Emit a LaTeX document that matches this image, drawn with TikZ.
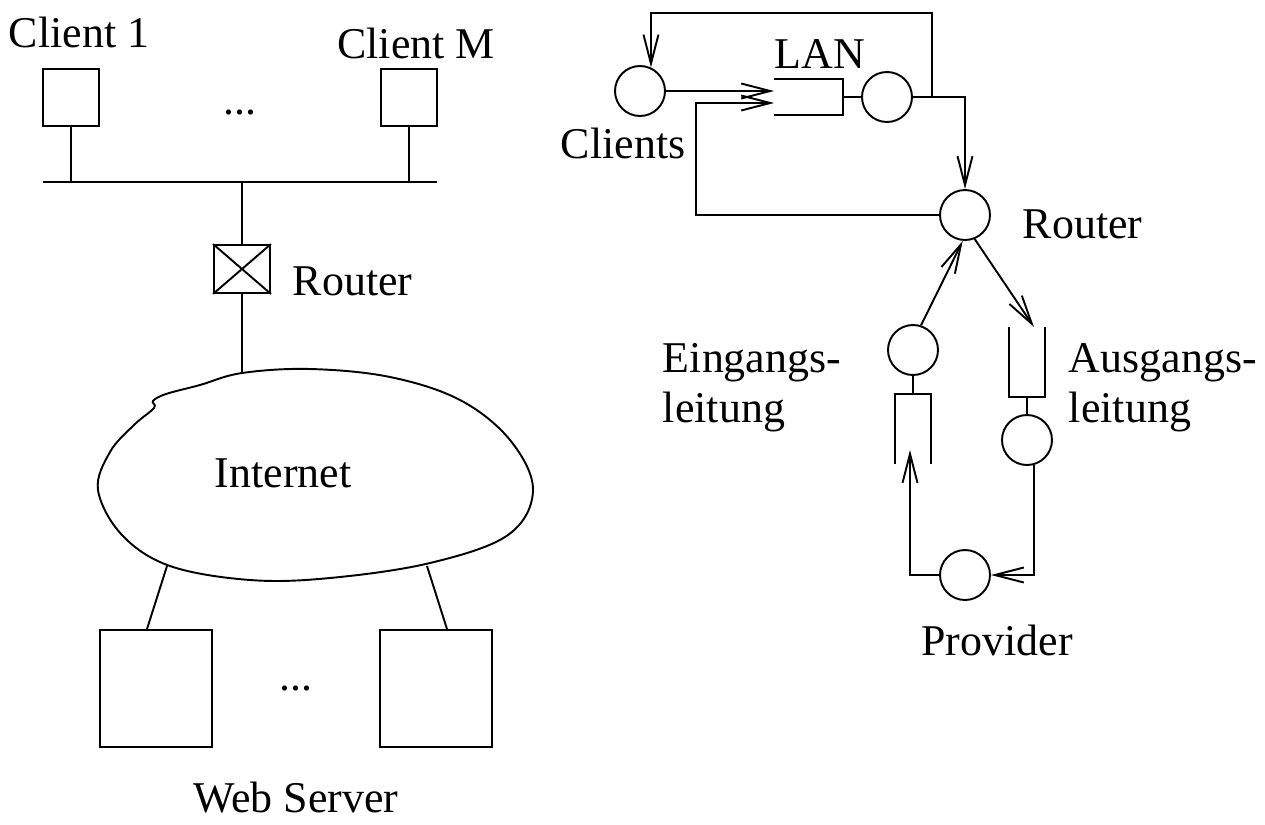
\documentclass[tikz,border=0pt]{standalone}
\usepackage{fontspec}
\setmainfont{Liberation Serif}
\usepackage{tikz}
\usetikzlibrary{arrows.meta}
\tikzstyle{box}=[rectangle, draw, inner sep=0pt]
\tikzstyle{stn}=[circle, draw, inner sep=0pt, minimum size=1cm]
\tikzstyle{queue}=[rectangle, inner sep=0pt, minimum width=0.68cm, minimum height=1.36cm]
\tikzstyle{lbl}=[inner sep=0pt]

\begin{document}
\begin{tikzpicture}[x=0.02cm, y=-0.02cm, line width=1.1pt,
    font=\fontsize{25}{28.5}\selectfont,
    >={Straight Barb[length=0.58cm, width=0.3cm]}]
        \useasboundingbox (0,0) rectangle (1265,825);

        % Clients
        \foreach \n/\x in {1/71, M/409}
            \node[box, minimum width=1.12cm, minimum height=1.14cm] (c\n) at (\x,97.5) {};
        \node[lbl, anchor=base] (lc1) at (79,47) {Client 1};
        \node[lbl, anchor=base] (lcM) at (416,58) {Client M};
        \node[lbl, anchor=base] (cdots) at (240,114) {...};

        % Bus
        \coordinate (busL) at (43,182);
        \coordinate (busR) at (437,182);
        \draw (busL) -- (busR);
        \foreach \n in {1, M}
            \draw (c\n.south) -- (c\n.south |- busL);

        % Router
        \node[box, minimum width=1.12cm, minimum height=0.96cm] (rt) at (242,269) {};
        \draw (rt.north west) -- (rt.south east);
        \draw (rt.north east) -- (rt.south west);
        \node[lbl, anchor=base west] (lrt) at (292,295) {Router};
        \draw (rt.north |- busL) -- (rt.north);

        % Internet
        \draw plot[smooth cycle, tension=0.6] coordinates {
            (242,373) (310,369) (390,377) (460,400) (510,440) (533,490)
            (508,535) (430,563) (330,578) (250,580) (170,566) (122,535)
            (98,490) (110,452) (134,425) (154,408) (153,401) (166,394) (200,385)};
        \coordinate (inTop) at (242,373);
        \coordinate (inL) at (167,566);
        \coordinate (inR) at (427,566);
        \node[lbl, anchor=base] (inet) at (283,487) {Internet};
        \draw (rt.south) -- (inTop);

        % Web Server
        \foreach \n/\x in {1/156, 2/436}
            \node[box, minimum width=2.24cm, minimum height=2.34cm] (s\n) at (\x,688.5) {};
        \draw (inL) -- ([xshift=-0.18cm]s1.north);
        \draw (inR) -- ([xshift=0.22cm]s2.north);
        \node[lbl, anchor=base] (sdots) at (296,690) {...};
        \node[lbl, anchor=base] (lws) at (296,812) {Web Server};

        % Modell: Clients und LAN
        \node[stn] (cl) at (640,91) {};
        \node[lbl, anchor=base west] (lcl) at (560,158) {Clients};
        \node[queue, minimum width=1.34cm, minimum height=0.68cm] (lq) at (808.5,97) {};
        \draw (lq.north west) -- (lq.north east) -- (lq.south east) -- (lq.south west);
        \node[lbl, anchor=base] (llan) at (820,68) {LAN};
        \node[stn] (lan) at (887,97) {};
        \draw (lq.east) -- (lan.west);
        \coordinate (jn) at (932,97);
        \coordinate (fb) at (696,103);

        % Router
        \node[stn] (rtr) at (965,215) {};
        \node[lbl, anchor=base west] (lrtr) at (1022,238) {Router};

        % Leitungen
        \node[stn] (ein) at (913,350) {};
        \node[queue] (eq) at (913,429) {};
        \draw (eq.south west) -- (eq.north west) -- (eq.north east) -- (eq.south east);
        \node[queue] (aq) at (1027,362) {};
        \draw (aq.north west) -- (aq.south west) -- (aq.south east) -- (aq.north east);
        \node[stn] (aus) at (1027,440) {};
        \node[stn] (prov) at (965,575) {};
        \coordinate (eqIn) at (910,450);
        \node[lbl, anchor=west, align=left] (lein) at (662,388) {Eingangs-\\leitung};
        \node[lbl, anchor=west, align=left] (laus) at (1068,388) {Ausgangs-\\leitung};
        \node[lbl, anchor=base] (lprov) at (997,655) {Provider};

        % Verbindungen
        \draw[->] (cl.east) -- (cl.east -| lq.west);
        \draw[->] (rtr.west) -| (fb) -- (fb -| lq.west);
        \draw (lan.east) -- (jn);
        \draw[->] (jn) -- ++(0,-84) -| (cl.65);
        \draw[->] (jn) -| (rtr.north);
        \draw[->] (ein.72) -- (rtr.265);
        \draw[->] (rtr.292) -- ([xshift=0.14cm]aq.north);
        \draw (ein.south) -- (eq.north);
        \draw (aq.south) -- (aus.north);
        \draw[->] (aus.-75) |- (prov.east);
        \draw[->] (prov.west) -| (eqIn);
\end{tikzpicture}
\end{document}
